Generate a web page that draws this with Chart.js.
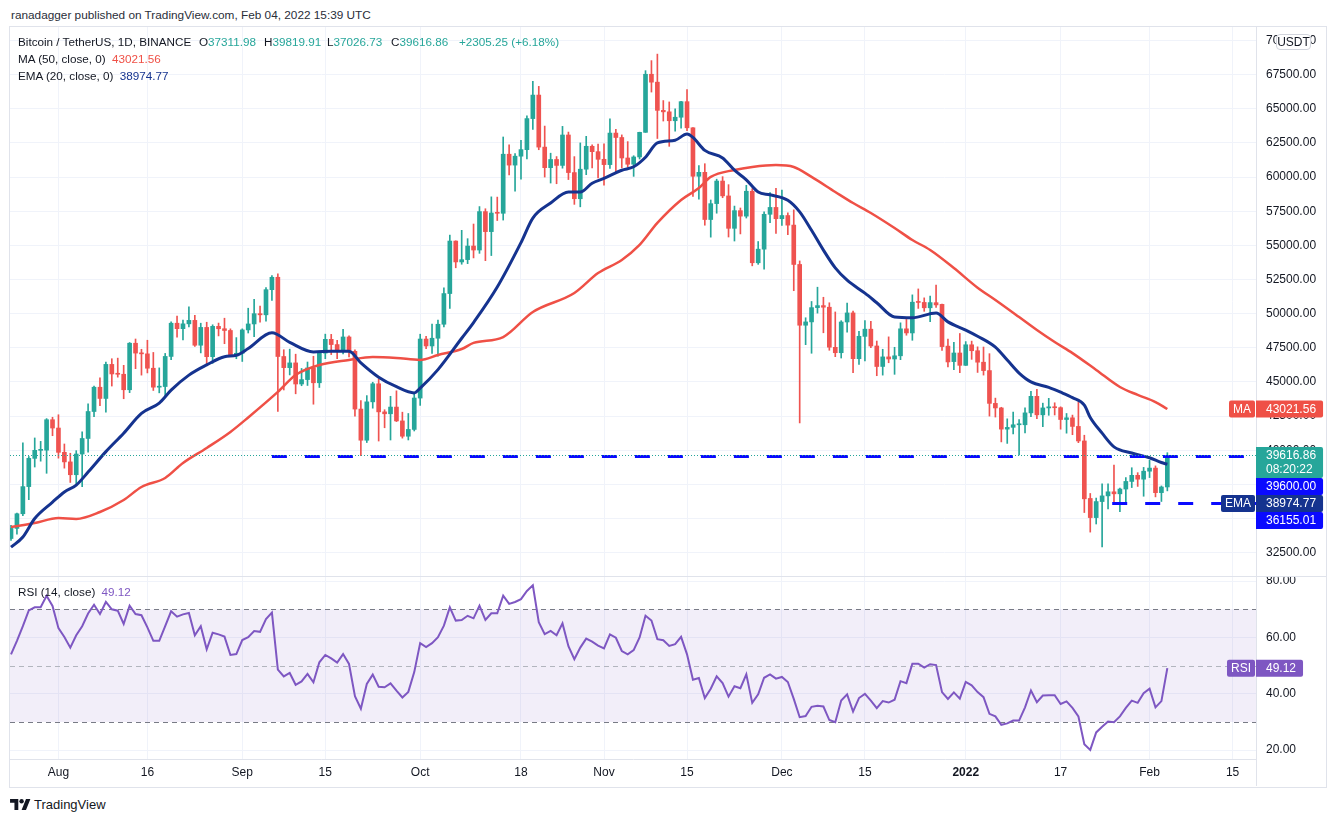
<!DOCTYPE html>
<html lang="en">
<head>
<meta charset="UTF-8">
<title>Bitcoin / TetherUS, 1D</title>
<script src="https://cdn.jsdelivr.net/npm/chart.js@4.4.1/dist/chart.umd.min.js"></script>
<style>
  * { margin: 0; padding: 0; box-sizing: border-box; }
  body {
    width: 1336px; height: 822px; position: relative; overflow: hidden;
    background: #fff; color: #131722;
    font-family: "Liberation Sans", Arial, sans-serif;
  }
  .abs { position: absolute; white-space: nowrap; }
  #head { left: 11px; top: 7px; font-size: 11.8px; line-height: 16px; color: #2a2e39; }
  #frame { left: 9px; top: 26px; width: 1318px; height: 762px; border: 1px solid #e0e3eb; }
  #price { left: 10px; top: 27px; }
  #sep { left: 10px; top: 576px; width: 1316px; height: 1px; background: #e0e3eb; }
  #rsi { left: 10px; top: 577px; }
  .legend { font-size: 11.7px; line-height: 16px; }
  .up { color: #26a69a; }
  .ma { color: #ef5046; }
  .ema { color: #15338f; }
  .rsi { color: #7e57c2; }
  #usdt {
    left: 1276px; top: 34px; width: 35px; height: 16px;
    border: 1px solid #d1d4dc; border-radius: 4px; background: #fff;
    font-size: 12px; line-height: 14px; text-align: center;
  }
  #logo { left: 10px; top: 796px; height: 16px; display: flex; align-items: center; gap: 3px; font-size: 13px; }
</style>
</head>
<body>
<div class="abs" id="head">ranadagger published on TradingView.com, Feb 04, 2022 15:39 UTC</div>
<div class="abs" id="frame"></div>
<canvas class="abs" id="price" width="1316" height="549"></canvas>
<div class="abs" id="sep"></div>
<canvas class="abs" id="rsi" width="1316" height="209"></canvas>

<div class="abs legend" style="left:18px;top:34px">Bitcoin / TetherUS, 1D, BINANCE</div>
<div class="abs legend" style="left:199px;top:34px">O<span class="up">37311.98</span></div>
<div class="abs legend" style="left:264px;top:34px">H<span class="up">39819.91</span></div>
<div class="abs legend" style="left:327px;top:34px">L<span class="up">37026.73</span></div>
<div class="abs legend" style="left:391px;top:34px">C<span class="up">39616.86</span></div>
<div class="abs legend up" style="left:459px;top:34px">+2305.25 (+6.18%)</div>
<div class="abs legend" style="left:18px;top:51px">MA (50, close, 0) <span class="ma" style="margin-left:3px">43021.56</span></div>
<div class="abs legend" style="left:18px;top:68px">EMA (20, close, 0) <span class="ema" style="margin-left:3px">38974.77</span></div>
<div class="abs legend" style="left:18px;top:584px">RSI (14, close) <span class="rsi" style="margin-left:3px">49.12</span></div>
<div class="abs" id="usdt">USDT</div>
<div class="abs" id="logo">
  <svg width="21" height="11" viewBox="0 0 38 20">
    <path d="M15 20H8V7H0V0h15z M29 20h-8l8-20h8z" fill="#131722"/>
    <circle cx="21" cy="4" r="4" fill="#131722"/>
  </svg>
  <span>TradingView</span>
</div>

<script>
// day index 0 = 2021-07-24, one candle per day up to 2022-02-04 (index 195)
const OPEN = [
  33538,34279,35351,37338,39406,39995,40008,42235,41626,39846,
  39147,38208,39723,40862,42836,44614,43792,46285,45585,45563,
  44429,47834,47113,47057,46004,44617,44664,46868,49300,48902,
  49254,49508,47688,48992,46851,49070,48896,48767,46970,47100,
  48810,49246,49999,49915,51756,52663,46863,46048,46395,44850,
  45173,46026,44940,47111,48122,47737,47300,48293,47242,43015,
  40734,43543,44865,42810,42670,43160,42147,41026,41524,43820,
  48141,47634,48200,49224,51471,55315,53785,53955,54949,54659,
  57471,56005,57367,57347,61672,60875,61528,62005,64280,66002,
  62193,60689,61286,60852,63079,60328,58413,60575,62253,61859,
  61300,60911,63220,62896,61396,60940,61471,63273,67525,66947,
  64882,64775,64122,64380,65519,63606,60059,60345,56891,58057,
  59707,58617,56247,57541,57138,58960,53724,54721,57274,57776,
  56950,57184,56484,53601,49152,49396,50441,50588,50471,47535,
  47140,49389,50054,46702,48336,48864,47633,46134,46835,46682,
  46914,48888,48588,50838,50821,50428,50803,50680,47623,46490,
  47120,46216,47722,47286,46446,45833,43431,43097,41546,41678,
  41865,41865,42735,43949,42592,43099,43172,43118,42250,42374,
  41744,40680,36471,35070,36244,36660,36958,36810,37160,37716,
  38166,37882,38466,38694,36897,37311.98
];
const HIGH = [
  34500,35398,40550,39542,40900,40650,42316,42414,42599,40459,
  39780,39969,41350,43392,44700,45310,46454,46700,46744,46217,
  47886,48144,47392,48053,47160,46030,47088,49400,49822,49526,
  50500,49875,49300,49371,49184,49310,49666,48888,48246,48888,
  50398,51056,50558,51900,52780,52920,47359,47400,47033,45987,
  46460,46880,47250,48500,48484,48050,48843,48372,47350,43639,
  44000,44978,45200,42966,43950,44350,42787,42690,44141,48495,
  48336,49228,49536,51887,55750,55332,56100,55489,56561,57839,
  57680,58550,58533,62933,62350,61720,62695,64486,67000,66639,
  63732,61747,61500,63710,63293,61496,62499,62980,62359,62405,
  62437,64270,63500,63086,62595,61560,63286,67789,68524,69000,
  65600,65500,65000,65550,66401,63617,60840,60977,58320,59846,
  60029,59444,57875,57735,59398,59150,55280,57445,58865,59176,
  59053,57375,57600,53859,49699,50891,51936,51200,50797,50125,
  49485,50777,50189,48700,49500,49436,47995,47392,48300,47537,
  49328,49576,51375,51810,51156,51281,52088,50704,48139,47900,
  48548,47954,47990,47570,47557,47070,43816,43146,42300,42786,
  42248,43100,44322,44459,43448,43800,43475,43180,42691,42574,
  43505,41100,36835,36499,37550,37545,38919,37234,38000,38720,
  38359,38744,39265,38855,37387,39819.91
];
const LOW = [
  33401,33851,35206,36383,38772,39200,38313,41064,39422,38690,
  37642,37508,37332,39853,42450,43261,42779,44700,45351,43770,
  44218,45971,45500,45660,44376,44203,43955,46636,48285,48071,
  49034,47600,47126,46300,46361,48370,47800,46853,46700,46500,
  48583,48316,49370,49450,50969,42843,44412,45513,44132,44722,
  44742,43370,44594,46700,47002,46700,47050,46830,42500,39600,
  40565,43079,40675,41646,40750,42098,40888,40753,41410,43283,
  47430,47088,46891,49022,50382,53357,53617,53661,54080,54415,
  53879,54253,56818,56850,60150,58963,59844,61322,63481,62000,
  60000,59562,59510,60650,59817,58000,57820,60174,60673,59945,
  59405,60624,60382,60677,60721,60050,61322,63273,66222,62822,
  64100,62250,63360,63576,63400,58574,58373,56474,55600,57353,
  58486,55610,55317,55837,57000,53500,53610,53256,56666,55875,
  56458,55777,51680,42000,47727,47100,50039,48600,47320,46852,
  46751,48638,45672,46290,46547,47511,45456,45500,46406,45558,
  46630,48421,48050,50384,50171,49412,50449,47313,46096,45900,
  45678,46208,46654,45696,45502,42500,42430,40611,40501,41200,
  39650,41268,42450,42311,41725,42558,42581,41540,41250,41138,
  40553,35440,34008,34601,32917,35701,36234,35507,36155,37268,
  37351,36632,38000,36586,36250,37026.73
];
const CLOSE = [
  34279,35351,37338,39406,39995,40008,42235,41626,39846,39147,
  38208,39723,40862,42836,44614,43792,46285,45585,45563,44429,
  47834,47113,47057,46004,44617,44664,46868,49300,48902,49254,
  49508,47688,48992,46851,49070,48896,48767,46970,47100,48810,
  49246,49999,49915,51756,52663,46863,46048,46395,44850,45173,
  46026,44940,47111,48122,47737,47300,48293,47242,43015,40734,
  43543,44865,42810,42670,43160,42147,41026,41524,43824,48141,
  47634,48200,49224,51471,55315,53785,53951,54949,54659,57471,
  56005,57367,57347,61672,60875,61528,62009,64280,66001,62193,
  60688,61286,60852,63078,60328,58413,60575,62253,61859,61299,
  60911,63219,62896,61395,60937,61470,63273,67525,66947,64882,
  64774,64122,64380,65519,63606,60058,60344,56891,58052,59707,
  58622,56247,57541,57138,58960,53726,54721,57274,57776,56950,
  57184,56480,53601,49152,49396,50441,50588,50471,47545,47140,
  49389,50053,46702,48343,48864,47632,46131,46834,46682,46914,
  48889,48588,50838,50821,50429,50809,50640,47588,46464,47120,
  46216,47722,47286,46446,45833,43431,43097,41547,41673,41865,
  41865,42736,43949,42592,43099,43177,43113,42250,42375,41744,
  40680,36445,35071,36244,36660,36958,36810,37160,37716,38166,
  37881,38466,38694,36896,37311,39616.86
];

// moving averages (day index, value)
const MA_DAYS = [0,4,8,11,15,19,22,26,29,33,37,40,45,48,52,57,61,65,69,72,76,78,83,88,95,99,103,106,109,113,116,118,122,125,129,132,135,139,142,145,149,152,155,159,163,166,170,173,176,179,183,187,190,193,195];
const MA_VALUES = [34380,34670,35040,34970,35480,36360,37310,37970,39070,40170,41340,42400,44270,45510,46240,46610,46830,46760,46610,46970,47410,47860,48290,50120,51510,52970,53930,55030,56640,58320,59200,60010,60520,60740,60880,60740,60010,58910,58100,57370,56270,55390,54660,53340,51900,51000,49750,48800,47920,47110,45880,44630,44050,43530,43021.56];
const EMA_DAYS = [0,2,4,7,9,11,13,16,19,22,25,27,30,33,36,38,40,44,47,51,54,57,59,62,65,68,69,72,76,78,82,86,88,91,94,96,98,100,103,105,107,109,112,114,115,117,120,122,124,126,128,131,133,135,137,139,141,144,146,149,152,156,158,161,163,166,168,170,172,175,177,179,181,182,184,186,189,192,194,195];
const EMA_VALUES = [32900,33650,35000,36200,36950,37450,38400,39900,41250,42700,43450,44400,45500,46250,46850,46950,47450,48600,47900,47200,47250,47250,46400,45350,44650,44200,44550,45900,48200,49350,51950,55200,57000,58100,58900,58900,59550,59900,60500,60750,61450,62500,62700,63150,62900,61950,61400,60500,59800,58900,58700,58300,57450,56100,54650,53350,52450,51500,50800,49750,49700,50050,49400,48800,48350,47550,46600,45650,45000,44600,44250,43850,43300,42400,41250,40250,39800,39450,39100,38974.77];

// RSI (14) per day, index 0..195
const RSI_VALUES = [
  54.0,58.8,64.0,69.6,70.7,70.7,74.8,71.2,63.3,60.2,
  56.4,60.8,64.0,68.5,71.6,68.3,72.6,70.0,69.5,64.8,
  71.3,68.3,67.9,63.6,58.8,58.8,64.0,69.3,67.4,68.2,
  68.7,60.8,64.0,55.8,61.7,61.1,60.3,53.8,54.1,59.1,
  60.1,62.3,62.0,66.5,68.8,48.6,46.2,47.4,43.2,44.4,
  47.1,44.1,51.2,53.8,52.6,51.1,54.1,50.6,39.2,34.7,
  43.5,46.8,42.5,42.3,43.7,41.1,38.7,40.7,47.7,58.0,
  56.6,58.0,60.1,64.2,70.7,66.0,66.2,67.7,66.8,71.3,
  66.2,68.6,68.6,74.8,71.9,72.6,73.6,76.5,78.5,65.4,
  61.2,62.3,60.8,65.0,56.9,52.3,56.4,59.6,58.5,57.1,
  56.1,61.1,59.9,55.2,54.0,55.5,60.0,67.7,66.0,59.4,
  59.0,57.0,57.6,60.2,54.0,45.0,45.6,38.5,41.8,46.2,
  43.8,39.0,42.7,42.0,46.9,36.8,39.8,45.7,46.9,45.4,
  46.0,44.2,38.2,31.7,32.1,35.4,35.8,35.5,30.7,29.9,
  37.6,39.8,33.7,38.5,40.0,37.6,34.9,37.4,36.9,37.9,
  44.5,43.8,50.7,50.7,49.3,50.5,50.2,40.6,38.2,40.5,
  38.3,44.2,43.0,40.6,38.8,32.9,32.0,29.0,29.5,30.5,
  30.5,35.2,41.2,37.0,39.4,39.5,39.5,36.4,37.3,35.0,
  32.0,22.1,20.1,26.3,28.3,30.2,29.9,32.0,35.0,37.6,
  36.8,40.2,41.8,35.2,37.4,49.12
];

// horizontal levels drawn by the author (price, first day)
const LEVELS = [39600, 36155.01];
const LEVEL_FROM = [44, 185.7];
const COUNTDOWN = '08:20:22';

// axis ticks
const DATE_TICK_DAYS = [8, 23, 39, 53, 69, 86, 100, 114, 130, 144, 161, 177, 192, 206];
const DATE_TICK_LABELS = ['Aug', '16', 'Sep', '15', 'Oct', '18', 'Nov', '15', 'Dec', '15', '2022', '17', 'Feb', '15'];
const PRICE_TICKS = [32500, 35000, 37500, 40000, 42500, 45000, 47500, 50000, 52500, 55000, 57500, 60000, 62500, 65000, 67500, 70000];
const RSI_TICKS = [20, 40, 60, 80];
const RSI_BANDS = [70, 50, 30];

// view window
const X_MIN = -0.17, X_MAX = 209.95;
const PRICE_MIN = 30794, PRICE_MAX = 70985;
const RSI_MIN = 16.87, RSI_MAX = 81.46;

const FONT = '"Liberation Sans", Arial, sans-serif';
const UP = '#26a69a', DOWN = '#ef5350';
const MA_COLOR = '#ef5046', EMA_COLOR = '#15338f', LEVEL_COLOR = '#0a0aff', RSI_COLOR = '#7e57c2';
const GRID = '#f0f3fa', BORDER = '#e0e3eb';
const AXIS_W = 70;

Chart.defaults.font.family = FONT;
Chart.defaults.font.size = 12;
Chart.defaults.color = '#131722';
Chart.defaults.animation = false;

const days = CLOSE.map((_, i) => i);
const candleColors = days.map(i => CLOSE[i] >= OPEN[i] ? UP : DOWN);

function fitY(scale) {
  scale.width = AXIS_W;
  scale.paddingTop = 0;
  scale.paddingBottom = 0;
}

function xScale(showLabels) {
  return {
    type: 'linear', min: X_MIN, max: X_MAX, offset: false,
    grid: { color: GRID, drawTicks: false, offset: false },
    border: { display: showLabels, color: BORDER },
    ticks: {
      display: showLabels, padding: 6, maxRotation: 0, autoSkip: false,
      callback: (v, i) => DATE_TICK_LABELS[i],
      font: ctx => ({ size: 12, weight: DATE_TICK_LABELS[ctx.index] === '2022' ? 'bold' : 'normal' })
    },
    afterBuildTicks: s => { s.ticks = DATE_TICK_DAYS.map(v => ({ value: v })); },
    afterFit: s => {
      s.height = showLabels ? 27 : 0;
      s.paddingLeft = 0;
      s.paddingRight = 0;
    }
  };
}

function roundBox(ctx, x, y, w, h, r) {
  ctx.beginPath();
  ctx.roundRect(x, y, w, h, r);
  ctx.fill();
}

// value label on the right axis, returns its height
function axisBox(ctx, x, top, lines, color) {
  const w = 10 + Math.max(...lines.map(t => ctx.measureText(t).width)) + 7;
  const h = lines.length * 14 + 3;
  ctx.fillStyle = color;
  roundBox(ctx, x, top, w, h, [0, 2, 2, 0]);
  ctx.fillStyle = '#fff';
  ctx.textAlign = 'left';
  lines.forEach((t, k) => ctx.fillText(t, x + 10, top + 1.5 + 14 * k + 7.5));
  return h;
}

function tagBox(ctx, right, top, text, color) {
  const w = ctx.measureText(text).width + 8;
  ctx.fillStyle = color;
  roundBox(ctx, right - w, top, w, 17, 2);
  ctx.fillStyle = '#fff';
  ctx.textAlign = 'center';
  ctx.fillText(text, right - w / 2, top + 9);
}

const priceLevels = {
  id: 'priceLevels',
  afterDatasetsDraw(chart) {
    const { ctx, chartArea: a, scales: { x, y } } = chart;
    ctx.save();
    ctx.beginPath();
    ctx.rect(a.left, a.top, a.width, a.height);
    ctx.clip();
    ctx.strokeStyle = LEVEL_COLOR;
    ctx.lineWidth = 3;
    ctx.setLineDash([15, 18]);
    LEVELS.forEach((v, k) => {
      const py = Math.round(y.getPixelForValue(v)) + 0.5;
      ctx.beginPath();
      ctx.moveTo(x.getPixelForValue(LEVEL_FROM[k]), py);
      ctx.lineTo(a.right, py);
      ctx.stroke();
    });
    const cy = Math.round(y.getPixelForValue(CLOSE[CLOSE.length - 1])) + 0.5;
    ctx.strokeStyle = UP;
    ctx.lineWidth = 1;
    ctx.setLineDash([1, 2]);
    ctx.beginPath();
    ctx.moveTo(a.left, cy);
    ctx.lineTo(a.right, cy);
    ctx.stroke();
    ctx.restore();
  }
};

const priceLabels = {
  id: 'priceLabels',
  afterDraw(chart) {
    const { ctx, chartArea: a, scales: { y } } = chart;
    const last = CLOSE.length - 1;
    const maLast = MA_VALUES[MA_VALUES.length - 1];
    const emaLast = EMA_VALUES[EMA_VALUES.length - 1];
    const items = [
      { v: maLast, lines: [maLast.toFixed(2)], color: MA_COLOR, tag: 'MA' },
      { v: CLOSE[last], lines: [CLOSE[last].toFixed(2), COUNTDOWN], color: UP },
      { v: LEVELS[0], lines: [LEVELS[0].toFixed(2)], color: LEVEL_COLOR },
      { v: emaLast, lines: [emaLast.toFixed(2)], color: EMA_COLOR, tag: 'EMA' },
      { v: LEVELS[1], lines: [LEVELS[1].toFixed(2)], color: LEVEL_COLOR }
    ];
    items.forEach(it => { it.py = y.getPixelForValue(it.v); });
    items.sort((p, q) => p.py - q.py);
    ctx.save();
    ctx.font = '12px ' + FONT;
    ctx.textBaseline = 'middle';
    let floor = -Infinity;
    for (const it of items) {
      const top = Math.max(it.py - 8.5, floor);
      const h = axisBox(ctx, a.right, top, it.lines, it.color);
      if (it.tag) tagBox(ctx, a.right - 1, top, it.tag, it.color);
      floor = top + h;
    }
    ctx.restore();
  }
};

new Chart(document.getElementById('price'), {
  type: 'bar',
  data: {
    datasets: [
      {
        type: 'line', label: 'EMA 20', order: 0,
        data: EMA_DAYS.map((d, k) => ({ x: d, y: EMA_VALUES[k] })),
        borderColor: EMA_COLOR, borderWidth: 3, pointRadius: 0,
        cubicInterpolationMode: 'monotone'
      },
      {
        type: 'line', label: 'MA 50', order: 0,
        data: MA_DAYS.map((d, k) => ({ x: d, y: MA_VALUES[k] })),
        borderColor: MA_COLOR, borderWidth: 2.5, pointRadius: 0,
        cubicInterpolationMode: 'monotone'
      },
      {
        label: 'body', order: 1, grouped: false,
        data: days.map(i => ({ x: i, y: [OPEN[i], CLOSE[i]] })),
        backgroundColor: candleColors, barThickness: 4, minBarLength: 1, borderWidth: 0
      },
      {
        label: 'wick', order: 2, grouped: false,
        data: days.map(i => ({ x: i, y: [LOW[i], HIGH[i]] })),
        backgroundColor: candleColors, barThickness: 1, borderWidth: 0
      }
    ]
  },
  options: {
    responsive: false,
    layout: { padding: 0 },
    plugins: { legend: { display: false }, tooltip: { enabled: false } },
    scales: {
      x: xScale(false),
      y: {
        position: 'right', min: PRICE_MIN, max: PRICE_MAX, beginAtZero: false,
        grid: { color: GRID, drawTicks: false },
        border: { color: BORDER },
        ticks: { padding: 10, callback: v => v.toFixed(2) },
        afterBuildTicks: s => { s.ticks = PRICE_TICKS.map(v => ({ value: v })); },
        afterFit: fitY
      }
    }
  },
  plugins: [priceLevels, priceLabels]
});

const rsiBands = {
  id: 'rsiBands',
  beforeDatasetsDraw(chart) {
    const { ctx, chartArea: a, scales: { y } } = chart;
    const top = y.getPixelForValue(RSI_BANDS[0]);
    const bottom = y.getPixelForValue(RSI_BANDS[2]);
    ctx.save();
    ctx.fillStyle = 'rgba(126, 87, 194, 0.1)';
    ctx.fillRect(a.left, top, a.width, bottom - top);
    ctx.lineWidth = 1;
    ctx.setLineDash([5, 4]);
    RSI_BANDS.forEach(v => {
      const py = Math.round(y.getPixelForValue(v)) + 0.5;
      ctx.strokeStyle = v === 50 ? '#b2b5be' : '#787b86';
      ctx.beginPath();
      ctx.moveTo(a.left, py);
      ctx.lineTo(a.right, py);
      ctx.stroke();
    });
    ctx.restore();
  },
  afterDraw(chart) {
    const { ctx, chartArea: a, scales: { y } } = chart;
    const last = RSI_VALUES[RSI_VALUES.length - 1];
    ctx.save();
    ctx.strokeStyle = BORDER;
    ctx.beginPath();
    ctx.moveTo(Math.round(a.right) + 0.5, a.bottom);
    ctx.lineTo(Math.round(a.right) + 0.5, chart.height);
    ctx.stroke();
    ctx.font = '12px ' + FONT;
    ctx.textBaseline = 'middle';
    const top = y.getPixelForValue(last) - 8.5;
    axisBox(ctx, a.right, top, [last.toFixed(2)], RSI_COLOR);
    tagBox(ctx, a.right - 1, top, 'RSI', RSI_COLOR);
    ctx.restore();
  }
};

new Chart(document.getElementById('rsi'), {
  type: 'line',
  data: {
    datasets: [{
      label: 'RSI 14',
      data: days.map(i => ({ x: i, y: RSI_VALUES[i] })),
      borderColor: RSI_COLOR, borderWidth: 2, pointRadius: 0, tension: 0
    }]
  },
  options: {
    responsive: false,
    layout: { padding: 0 },
    plugins: { legend: { display: false }, tooltip: { enabled: false } },
    scales: {
      x: xScale(true),
      y: {
        position: 'right', min: RSI_MIN, max: RSI_MAX,
        grid: { color: GRID, drawTicks: false },
        border: { color: BORDER },
        ticks: { padding: 10, callback: v => v.toFixed(2) },
        afterBuildTicks: s => { s.ticks = RSI_TICKS.map(v => ({ value: v })); },
        afterFit: fitY
      }
    }
  },
  plugins: [rsiBands]
});
</script>
</body>
</html>
